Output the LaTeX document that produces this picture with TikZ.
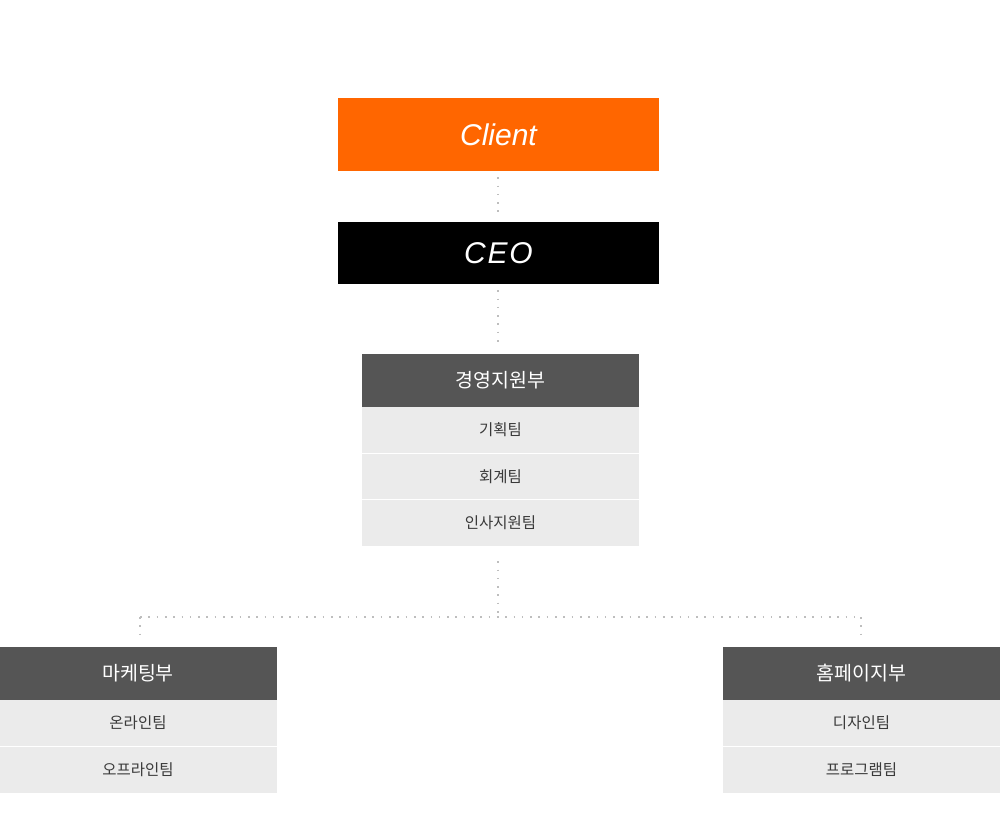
\documentclass[tikz,border=0pt]{standalone}
\usepackage{fontspec}
\newfontfamily\latinf{Liberation Sans}
\newfontfamily\latinsp[LetterSpace=6]{Liberation Sans}
\newfontfamily\krf{Noto Sans CJK KR}
\definecolor{orangec}{HTML}{FF6600}
\definecolor{headc}{HTML}{555555}
\definecolor{rowc}{HTML}{EBEBEB}
\definecolor{rowtxt}{HTML}{3A3A3A}
\definecolor{dotc}{HTML}{BEBEBE}
\begin{document}
\begin{tikzpicture}[x=1pt,y=-1pt,
  topbox/.style={rectangle,inner sep=0pt,minimum width=321pt,text=white},
  headbox/.style={rectangle,inner sep=0pt,fill=headc,minimum width=277pt,minimum height=53pt,text=white,font=\krf\fontsize{19.5}{21}\selectfont},
  rowbox/.style={rectangle,inner sep=0pt,fill=rowc,minimum width=277pt,text=rowtxt,font=\krf\fontsize{15.5}{17}\selectfont},
  dotline/.style={draw=dotc,line width=1.6pt,dash pattern=on 1.6pt off 6.7pt}
]
\useasboundingbox (0,0) rectangle (1000,838);
% top boxes
\node[topbox,fill=orangec,minimum height=73pt,font=\latinf\itshape\fontsize{30}{32}\selectfont] (client) at (498.5,134.5) {Client};
\node[topbox,fill=black,minimum height=62pt,font=\latinsp\itshape\fontsize{30}{32}\selectfont] (ceo) at (498.5,253) {CEO};
% management support
\node[headbox] (mgmt) at (500.5,380.5) {경영지원부};
\node[rowbox,minimum height=46pt] (m1) at (500.5,430) {기획팀};
\node[rowbox,minimum height=45pt] (m2) at (500.5,476.5) {회계팀};
\node[rowbox,minimum height=46pt] (m3) at (500.5,523) {인사지원팀};
% marketing
\node[headbox] (mkt) at (138,673.5) {마케팅부};
\node[rowbox,minimum height=46pt] (k1) at (138,723) {온라인팀};
\node[rowbox,minimum height=45.5pt] (k2) at (138,769.75) {오프라인팀};
% homepage
\node[headbox] (home) at (861.5,673.5) {홈페이지부};
\node[rowbox,minimum height=46pt] (h1) at (861.5,723) {디자인팀};
\node[rowbox,minimum height=45.5pt] (h2) at (861.5,769.75) {프로그램팀};
% connectors
\coordinate (j) at (498,617);
\coordinate (jl) at (140,617);
\coordinate (jr) at (861,617);
\draw[dotline,shorten <=6pt,shorten >=4pt] (client.south -| j) -- (ceo.north -| j);
\draw[dotline,shorten <=6pt,shorten >=6pt] (ceo.south -| j) -- (mgmt.north -| j);
\draw[dotline,shorten <=15pt] (m3.south -| j) -- (j);
\draw[dotline] (jl) -- (jr);
\draw[dotline,shorten >=7pt] (jl) -- (mkt.north -| jl);
\draw[dotline,shorten >=7pt] (jr) -- (home.north -| jr);
\end{tikzpicture}
\end{document}
